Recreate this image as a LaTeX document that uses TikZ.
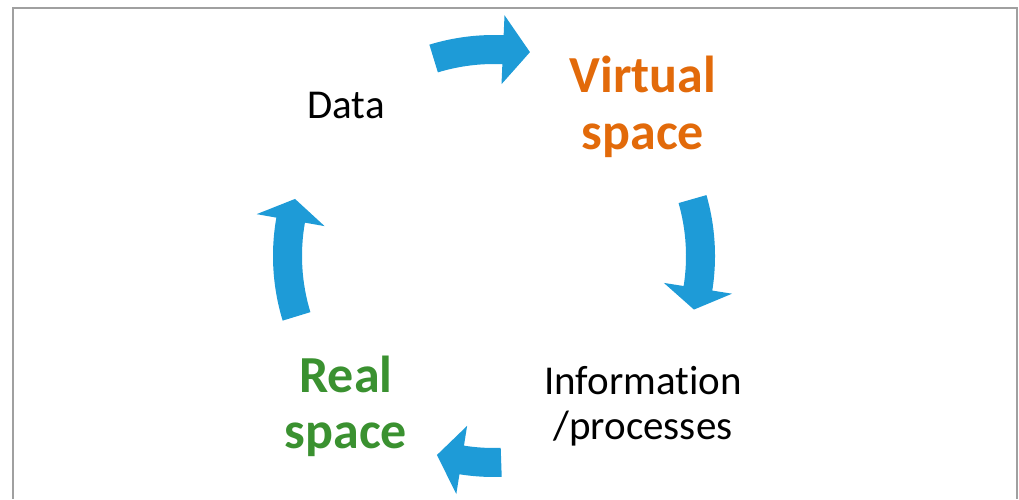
\documentclass[tikz,border=0pt]{standalone}
\usepackage{fontspec}
\setmainfont{Carlito}[Ligatures=NoCommon]
\usetikzlibrary{calc}
\definecolor{cycleblue}{RGB}{30,155,215}
\definecolor{virtualorange}{RGB}{226,106,10}
\definecolor{realgreen}{RGB}{58,145,48}
\definecolor{framegray}{RGB}{160,160,160}
\newcommand*{\rin }{192}
\newcommand*{\rout}{221}
\newcommand*{\hin }{172}
\newcommand*{\hout}{241}
\newcommand*{\rmid}{207}
% #1 tail angle, #2 head base angle, #3 tip angle
\newcommand*{\bendarrow}[3]{%
    \fill [cycleblue] ($(ctr)+(#1:\rout)$) arc [start angle=#1, end angle=#2, radius=\rout]
        -- ($(ctr)+(#2:\hout)$) -- ($(ctr)+(#3:\rmid)$) -- ($(ctr)+(#2:\hin)$)
        -- ($(ctr)+(#2:\rin)$) arc [start angle=#2, end angle=#1, radius=\rin] -- cycle;}

\begin{document}
\begin{tikzpicture}[x=1pt, y=1pt, font=\fontsize{41}{45}\selectfont]
    \useasboundingbox (0,0) rectangle (1019,499);
    \draw [framegray, line width=2pt] (13,0) -- (13,491) -- (1017,491) -- (1017,0);
    \coordinate (ctr) at (494,243);
    \bendarrow{107}{87.5}{80}
    \bendarrow{16}{-9}{-15}
    \bendarrow{272}{261}{254}
    \bendarrow{197}{170}{164}
    \node [anchor=base] (data) at (346,381) {Data};
    \node [anchor=base, align=center, text=virtualorange, font=\fontsize{52}{56}\selectfont\bfseries] (virtual) at (643,350) {Virtual\\space};
    \node [anchor=base, align=center] (info) at (643,60) {Information\\/processes};
    \node [anchor=base, align=center, text=realgreen, font=\fontsize{52}{56}\selectfont\bfseries] (real) at (346,51) {Real\\space};
\end{tikzpicture}
\end{document}
